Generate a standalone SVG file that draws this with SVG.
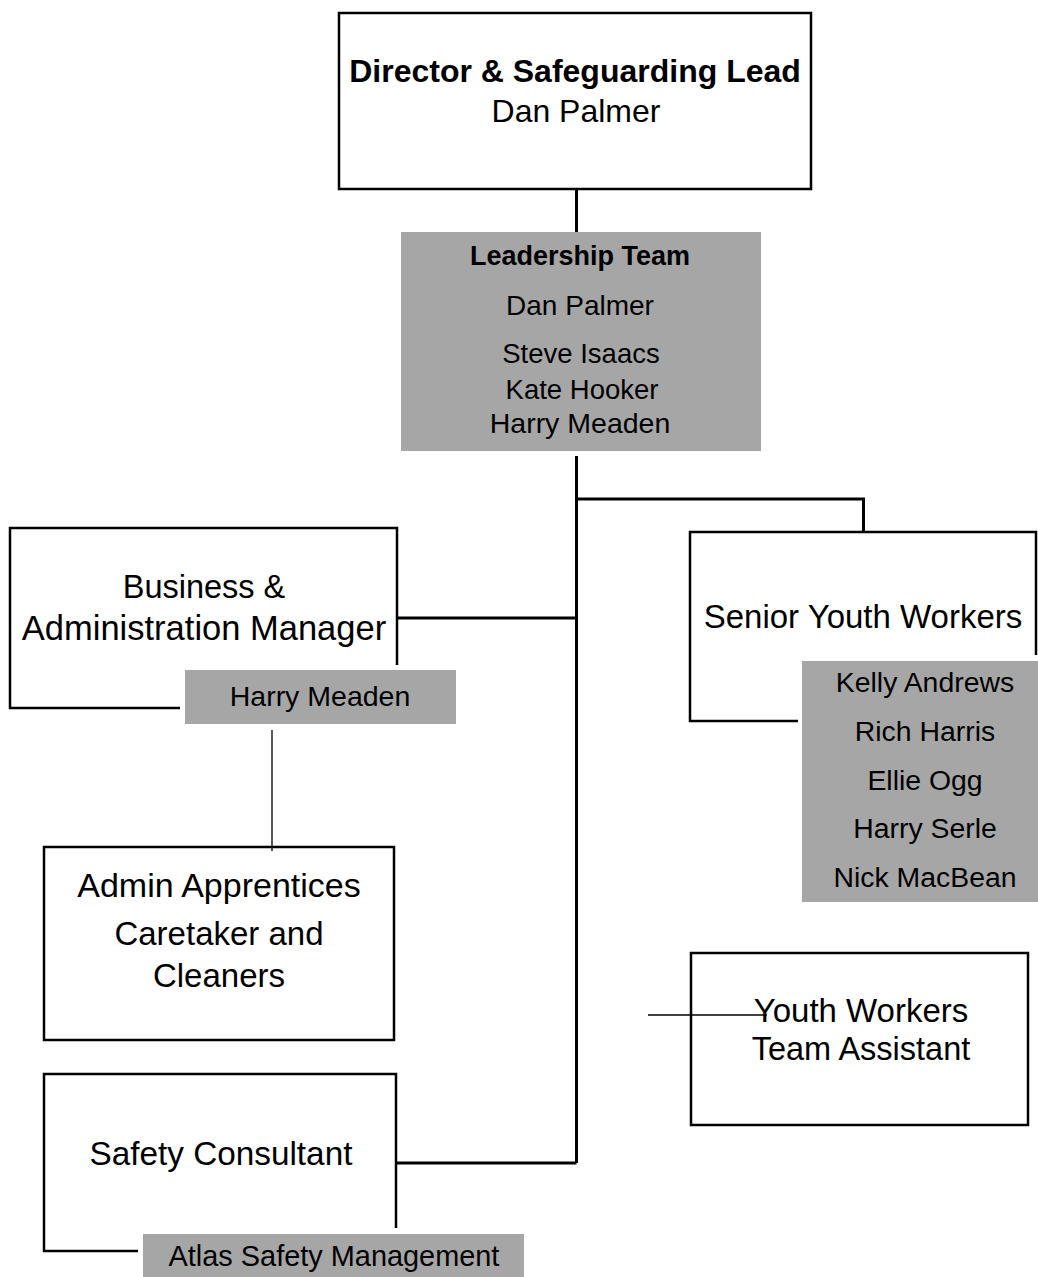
<svg xmlns="http://www.w3.org/2000/svg" width="1038" height="1277" viewBox="0 0 1038 1277">
<style>
text{font-family:"Liberation Sans",Arial,sans-serif;fill:#000;text-anchor:middle}
.b{font-weight:bold}
.box{fill:none;stroke:#000;stroke-width:2.5}
.grey{fill:#a6a6a6}
.ln{fill:none;stroke:#000;stroke-width:3}
.thin{fill:none;stroke:#000;stroke-width:1.3}
</style>
<rect width="1038" height="1277" fill="#fff"/>
<g id="connectors">
<path class="ln" d="M576.5,189 V232"/>
<path class="ln" d="M576.5,456 V1163"/>
<path class="ln" d="M576.5,499 H863.5 V532"/>
<path class="ln" d="M576.5,618 H397"/>
<path class="ln" d="M576.5,1163 H396"/>
<path class="thin" d="M272,730 V851"/>
<path class="thin" d="M648,1015 H767"/>
</g>
<g id="director">
<rect class="box" x="339" y="13" width="472" height="176" fill="#fff"/>
<text class="b" x="575" y="82" font-size="32">Director &amp; Safeguarding Lead</text>
<text x="576" y="122" font-size="32">Dan Palmer</text>
</g>
<g id="leadership">
<rect class="grey" x="401" y="232" width="360" height="219"/>
<text class="b" x="580" y="265" font-size="27">Leadership Team</text>
<text x="580" y="315" font-size="28">Dan Palmer</text>
<text x="581" y="363" font-size="27.5">Steve Isaacs</text>
<text x="582" y="399" font-size="27.5">Kate Hooker</text>
<text x="580" y="433" font-size="28.5">Harry Meaden</text>
</g>
<g id="business">
<path class="box" d="M180,708 H10 V528 H397 V665"/>
<text x="204" y="598" font-size="32.5">Business &amp;</text>
<text x="204" y="640" font-size="34.5">Administration Manager</text>
<rect class="grey" x="185" y="670" width="271" height="54"/>
<text x="320" y="706" font-size="28.5">Harry Meaden</text>
</g>
<g id="admin">
<rect class="box" x="44" y="847" width="350" height="193"/>
<text x="219" y="897" font-size="34">Admin Apprentices</text>
<text x="219" y="945" font-size="33">Caretaker and</text>
<text x="219" y="987" font-size="33">Cleaners</text>
</g>
<g id="senior">
<path class="box" d="M798,721 H690 V532 H1036 V655"/>
<text x="863" y="628" font-size="33">Senior Youth Workers</text>
<rect class="grey" x="802" y="661" width="236" height="241"/>
<text x="925" y="692" font-size="28.4">Kelly Andrews</text>
<text x="925" y="741" font-size="28.4">Rich Harris</text>
<text x="925" y="790" font-size="28.4">Ellie Ogg</text>
<text x="925" y="838" font-size="28.4">Harry Serle</text>
<text x="925" y="887" font-size="28.4">Nick MacBean</text>
</g>
<g id="youth">
<rect class="box" x="691" y="953" width="337" height="172"/>
<text x="861" y="1022" font-size="33">Youth Workers</text>
<text x="861" y="1060" font-size="32.5">Team Assistant</text>
</g>
<g id="safety">
<path class="box" d="M138,1251 H44 V1074 H396 V1228"/>
<text x="221" y="1165" font-size="33.3">Safety Consultant</text>
<rect class="grey" x="143" y="1234" width="381" height="43"/>
<text x="334" y="1266" font-size="28.9">Atlas Safety Management</text>
</g>
</svg>
